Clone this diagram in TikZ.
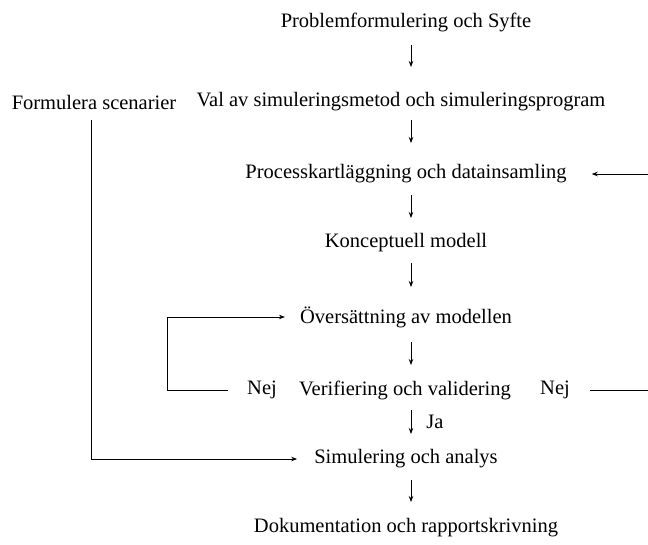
\documentclass[tikz,border=0pt]{standalone}
\usepackage{fontspec}
\setmainfont{Liberation Serif}
\usetikzlibrary{arrows.meta,calc}
\begin{document}
\begin{tikzpicture}[x=1pt,y=-1pt,
  every node/.style={font=\fontsize{20.5}{24}\selectfont, inner sep=0pt, anchor=center},
  arr/.style={-{Stealth[length=6pt,width=4.5pt]}, line width=0.8pt},
  ln/.style={line width=0.8pt}]
\useasboundingbox (0,0) rectangle (648,544);
\node (p) at (406,22) {Problemformulering och Syfte};
\node (f) at (94,102) {Formulera scenarier};
\node (v) at (401,102) {Val av simuleringsmetod och simuleringsprogram};
\node (pk) at (406,174) {Processkartläggning och datainsamling};
\node (k) at (406,243) {Konceptuell modell};
\node (o) at (406,317) {Översättning av modellen};
\node (vv) at (405,390) {Verifiering och validering};
\node (n1) at (262,390) {Nej};
\node (n2) at (555,390) {Nej};
\node (s) at (406,459) {Simulering och analys};
\node (d) at (406,528) {Dokumentation och rapportskrivning};
\node (ja) at (435,422) {Ja};
\coordinate (col) at (411,0);
\coordinate (fx) at (91,0);
\coordinate (lx) at (167,0);
\coordinate (re) at (648,0);
\draw[arr] ($(p.center -| col)+(0,23)$) -- ($(v.center -| col)+(0,-35)$);
\draw[arr] ($(v.center -| col)+(0,18)$) -- ($(pk.center -| col)+(0,-31)$);
\draw[arr] ($(pk.center -| col)+(0,21)$) -- ($(k.center -| col)+(0,-25)$);
\draw[arr] ($(k.center -| col)+(0,20)$) -- ($(o.center -| col)+(0,-30)$);
\draw[arr] ($(o.center -| col)+(0,25)$) -- ($(vv.center -| col)+(0,-25)$);
\draw[arr] ($(vv.center -| col)+(0,20)$) -- ($(s.center -| col)+(0,-25)$);
\draw[arr] ($(s.center -| col)+(0,21)$) -- ($(d.center -| col)+(0,-26)$);
\draw[arr, shorten >=17pt] ($(f.center -| fx)+(0,18)$) |- (s.west);
\draw[arr, shorten >=15pt] ($(n1.west)+(-19,0)$) -- (n1.west -| lx) |- (o.west);
\draw[ln] ($(n2.east)+(20,0)$) -- (n2.east -| re);
\draw[arr, shorten >=25pt] (pk.east -| re) -- (pk.east);
\end{tikzpicture}
\end{document}
